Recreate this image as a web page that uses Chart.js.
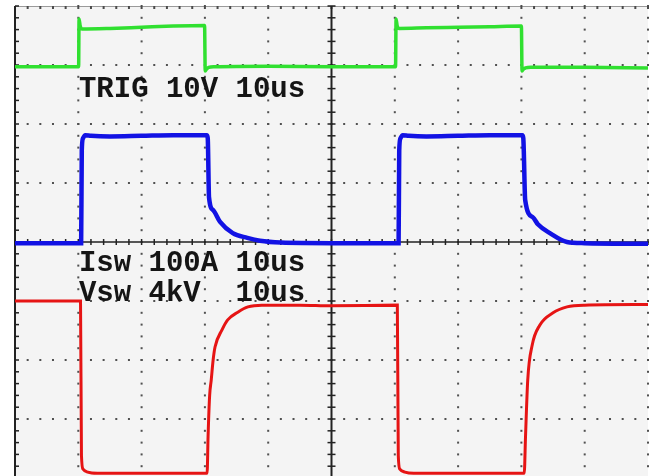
<!DOCTYPE html>
<html>
<head>
<meta charset="utf-8">
<script src="https://cdn.jsdelivr.net/npm/chart.js@4.4.1/dist/chart.umd.min.js"></script>
<style>
  html, body { margin: 0; padding: 0; background: #fff; }
  #scope { display: block; }
</style>
</head>
<body>
<canvas id="scope" width="649" height="476"></canvas>
<script>
// time in us (10 us/div), levels in screen divisions (0 = centre line)
const trigT = [0, 10.05, 10.12, 10.3, 10.6, 15, 20, 25, 29.95, 30.05, 30.25, 30.6, 31.5, 40, 50,
               60.12, 60.2, 60.38, 60.7, 65, 70, 75, 80.0, 80.1, 80.3, 80.65, 81.5, 90, 100];
const trigV = [2.97, 2.97, 3.78, 3.66, 3.61, 3.62, 3.64, 3.66, 3.67, 2.9, 2.93, 2.96, 2.97, 2.98, 2.97,
               2.97, 3.78, 3.66, 3.62, 3.63, 3.64, 3.65, 3.66, 2.9, 2.93, 2.95, 2.96, 2.96, 2.95];

const iswT = [0, 10.45, 10.55, 10.75, 11.1, 12, 15, 20, 25, 30.3, 30.45, 30.65, 31.3, 32.4, 34.4, 36.7, 38.7, 42, 50,
              60.6, 60.7, 60.9, 61.25, 62.2, 65, 70, 75, 80.15, 80.3, 80.6, 81.8, 82.6, 84.5, 87.2, 90, 100];
const iswV = [-0.02, -0.02, 1.55, 1.76, 1.81, 1.8, 1.79, 1.8, 1.81, 1.81, 1.76, 0.76, 0.54, 0.34, 0.15, 0.07, 0.02, -0.01, -0.02,
              -0.02, 1.55, 1.76, 1.81, 1.8, 1.79, 1.8, 1.81, 1.81, 1.76, 0.71, 0.42, 0.3, 0.15, 0.0, -0.02, -0.03];

const vswT = [0, 10.35, 10.5, 10.75, 11.5, 13, 20, 30.35, 30.5, 30.75, 31.0, 31.3, 31.6, 32.7, 33.6, 35.2, 36.8, 39, 45, 50,
              60.4, 60.55, 60.8, 61.6, 63, 70, 80.45, 80.65, 81.0, 81.7, 82.9, 85.0, 87.2, 90, 100];
const vswV = [-1.0, -1.0, -3.62, -3.85, -3.9, -3.92, -3.92, -3.92, -3.3, -2.6, -2.34, -2.0, -1.78, -1.49, -1.32, -1.19, -1.1, -1.07, -1.07, -1.08,
              -1.07, -3.62, -3.85, -3.9, -3.92, -3.92, -3.92, -3.3, -2.34, -1.75, -1.41, -1.2, -1.1, -1.07, -1.06];

const labels = [
  { text: "TRIG 10V 10us", t: 10.1, v: 2.46 },
  { text: "Isw 100A 10us", t: 10.1, v: -0.49 },
  { text: "Vsw 4kV  10us", t: 10.1, v: -1.0 }
];

const toPts = (ts, vs) => ts.map((t, i) => ({ x: t, y: vs[i] }));

function trace(pts, color, width) {
  return {
    data: pts,
    showLine: true,
    borderColor: color,
    borderWidth: width,
    pointRadius: 0,
    cubicInterpolationMode: "monotone"
  };
}

// oscilloscope graticule: dotted major lines, centre axes with ticks
const graticule = {
  id: "graticule",
  beforeDatasetsDraw(chart) {
    const { ctx, chartArea: a, scales: { x, y } } = chart;
    ctx.save();
    ctx.fillStyle = "#f4f4f4";
    ctx.fillRect(a.left, a.top, a.right - a.left, a.bottom - a.top);

    ctx.fillStyle = "#505050";
    for (let t = 10; t <= 100; t += 10) {
      if (t === 50) continue;
      const px = x.getPixelForValue(t);
      for (let d = -4; d <= 4.001; d += 0.2) {
        const py = y.getPixelForValue(d);
        ctx.fillRect(px - 1, py - 1, 2, 2);
      }
    }
    for (let d = -3; d <= 3; d++) {
      if (d === 0) continue;
      const py = y.getPixelForValue(d);
      for (let t = 0; t <= 100.001; t += 2) {
        const px = x.getPixelForValue(t);
        ctx.fillRect(px - 1, py - 1, 2, 2);
      }
    }

    // top border
    const top = y.getPixelForValue(4);
    ctx.strokeStyle = "#9a9a9a";
    ctx.lineWidth = 1;
    ctx.beginPath();
    ctx.moveTo(a.left, top + 0.5);
    ctx.lineTo(a.right, top + 0.5);
    ctx.stroke();
    ctx.fillStyle = "#4a4a4a";
    for (let t = 0; t <= 100.001; t += 2) {
      ctx.fillRect(x.getPixelForValue(t) - 1, top, 2, 3);
    }

    ctx.strokeStyle = "#222";
    // left border
    const lx = x.getPixelForValue(0);
    ctx.lineWidth = 2;
    ctx.beginPath();
    ctx.moveTo(lx, a.top);
    ctx.lineTo(lx, a.bottom);
    ctx.stroke();
    ctx.lineWidth = 1.5;
    for (let d = -4; d <= 4.001; d += 0.2) {
      const py = y.getPixelForValue(d);
      ctx.beginPath();
      ctx.moveTo(lx, py);
      ctx.lineTo(lx + 4, py);
      ctx.stroke();
    }

    // centre vertical
    const cx = x.getPixelForValue(50);
    ctx.lineWidth = 2;
    ctx.beginPath();
    ctx.moveTo(cx, a.top);
    ctx.lineTo(cx, a.bottom);
    ctx.stroke();
    ctx.lineWidth = 1.5;
    for (let d = -4; d <= 4.001; d += 0.2) {
      const py = y.getPixelForValue(d);
      ctx.beginPath();
      ctx.moveTo(cx - 4, py);
      ctx.lineTo(cx + 4, py);
      ctx.stroke();
    }

    // centre horizontal
    const cy = y.getPixelForValue(0);
    ctx.lineWidth = 1.5;
    ctx.beginPath();
    ctx.moveTo(a.left, cy);
    ctx.lineTo(a.right, cy);
    ctx.stroke();
    for (let t = 0; t <= 100.001; t += 2) {
      const px = x.getPixelForValue(t);
      ctx.beginPath();
      ctx.moveTo(px, cy - 3);
      ctx.lineTo(px, cy + 3);
      ctx.stroke();
    }
    ctx.restore();
  },
  afterDatasetsDraw(chart) {
    const { ctx, scales: { x, y } } = chart;
    ctx.save();
    ctx.font = 'bold 29px "Liberation Mono", "DejaVu Sans Mono", monospace';
    ctx.fillStyle = "#151515";
    ctx.textBaseline = "alphabetic";
    labels.forEach(l => ctx.fillText(l.text, x.getPixelForValue(l.t), y.getPixelForValue(l.v)));
    ctx.restore();
  }
};

new Chart(document.getElementById("scope").getContext("2d"), {
  type: "scatter",
  data: {
    datasets: [
      trace(toPts(trigT, trigV), "#30e030", 3.5),
      trace(toPts(iswT, iswV), "#1212e4", 4.5),
      trace(toPts(vswT, vswV), "#e61414", 3)
    ]
  },
  options: {
    responsive: false,
    animation: false,
    layout: { padding: { left: 15, top: 6, right: 1, bottom: 0 } },
    plugins: { legend: { display: false }, tooltip: { enabled: false } },
    scales: {
      x: { type: "linear", min: 0, max: 100, display: false },
      y: { type: "linear", min: -3.966, max: 4, display: false }
    }
  },
  plugins: [graticule]
});
</script>
</body>
</html>
